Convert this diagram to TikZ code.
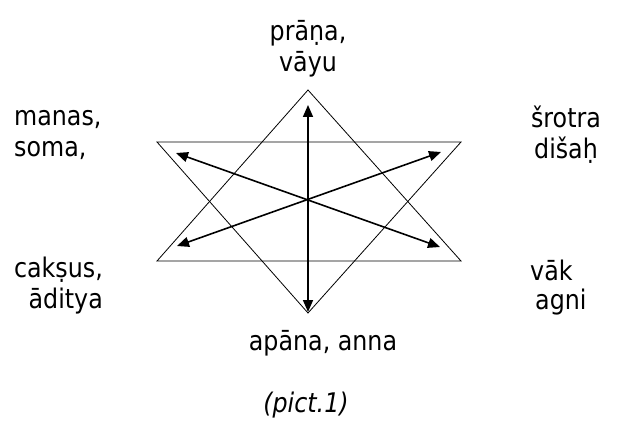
\documentclass[tikz,border=0pt]{standalone}
\usepackage{fontspec}
\setmainfont{DejaVu Sans}[FakeStretch=0.88]
\usetikzlibrary{arrows.meta}

\begin{document}
\begin{tikzpicture}[x=1pt, y=-1pt, every node/.style={font=\fontsize{27}{31}\selectfont, inner sep=0pt},
    tri/.style={draw, line width=0.8pt},
    ray/.style={{Triangle[length=12pt,width=10pt]}-{Triangle[length=12pt,width=10pt]}, line width=1.6pt}]
    \useasboundingbox (0,0) rectangle (626,425);
    % the two triangles
    \draw[tri] (308,90) -- (461,261) -- (157,261) -- cycle;
    \draw[tri] (157,142) -- (461,142) -- (308,313) -- cycle;
    % arrow ends
    \coordinate (top) at (308,105);
    \coordinate (bot) at (308,312);
    \coordinate (ul) at (176,153);
    \coordinate (lr) at (440,247);
    \coordinate (ll) at (177,246);
    \coordinate (ur) at (441,152);
    \draw[ray] (bot) -- (top);
    \draw[ray] (ul) -- (lr);
    \draw[ray] (ll) -- (ur);
    % labels
    \node[align=center] (prana) at (308,49) {prāṇa,\\vāyu};
    \node[align=left, anchor=west] (manas) at (14,135) {manas,\\soma,};
    \node[align=center] (srotra) at (566,135) {šrotra\\dišaḥ};
    \node[align=right, anchor=east] (caksus) at (103,286) {cakṣus,\\āditya};
    \node[anchor=west] (vak) at (530,270) {vāk};
    \node[anchor=west] (agni) at (535,302) {agni};
    \node (apana) at (323,343) {apāna, anna};
    \node[font=\fontsize{27}{31}\selectfont\itshape] (pict) at (306,405) {(pict.1)};
\end{tikzpicture}
\end{document}
